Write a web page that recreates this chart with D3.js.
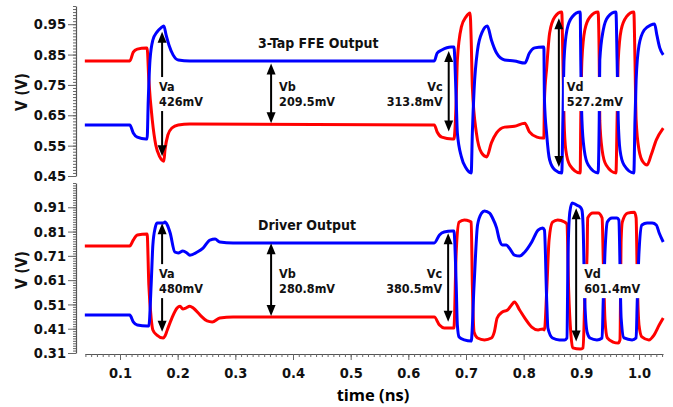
<!DOCTYPE html>
<html>
<head>
<meta charset="utf-8">
<script src="https://cdn.jsdelivr.net/npm/d3@7"></script>
<style>
  body { margin: 0; background: #fff; }
  svg { display: block; }
  .axis .domain { stroke: #555; stroke-width: 1.2; }
  .axis line { stroke: #666; }
  .axis text { font-family: 'DejaVu Sans Condensed', 'Liberation Sans', sans-serif; font-weight: bold; font-size: 14.5px; fill: #111; }
  .lbl { font-family: 'DejaVu Sans Condensed', 'Liberation Sans', sans-serif; font-weight: bold; fill: #111; }
</style>
</head>
<body>
<div id="chart"></div>
<script>
// tick labels
var ffeTicks = [0.45, 0.55, 0.65, 0.75, 0.85, 0.95];
var drvTicks = [0.31, 0.41, 0.51, 0.61, 0.71, 0.81, 0.91];
var timeTicks = [0.1, 0.2, 0.3, 0.4, 0.5, 0.6, 0.7, 0.8, 0.9, 1.0];

// 3-Tap FFE output, [time ns, volts]
var ffeRed = [[0.039,0.829],[0.117,0.829],[0.123,0.858],[0.130,0.868],[0.145,0.872],[0.147,0.872],[0.150,0.766],[0.156,0.634],[0.162,0.552],[0.169,0.513],[0.176,0.499],[0.178,0.536],[0.183,0.585],[0.190,0.608],[0.201,0.618],[0.221,0.621],[0.645,0.618],
  [0.650,0.595],[0.658,0.578],[0.676,0.572],[0.679,0.572],[0.683,0.700],[0.685,0.832],[0.692,0.941],[0.700,0.974],[0.707,0.987],[0.709,0.898],[0.711,0.743],[0.718,0.592],[0.727,0.526],[0.736,0.513],[0.744,0.559],[0.753,0.592],[0.767,0.611],[0.784,0.614],[0.802,0.624],[0.810,0.595],[0.823,0.578],[0.833,0.575],[0.835,0.575],
  [0.836,0.700],[0.840,0.809],[0.845,0.921],[0.854,0.974],[0.866,0.990],[0.868,0.832],[0.870,0.634],[0.873,0.536],[0.880,0.486],[0.898,0.460],[0.899,0.634],[0.901,0.832],[0.906,0.931],[0.915,0.974],[0.929,0.990],[0.931,0.832],[0.932,0.634],[0.936,0.536],[0.943,0.486],[0.960,0.460],
  [0.962,0.634],[0.964,0.832],[0.969,0.931],[0.978,0.974],[0.991,0.990],[0.993,0.832],[0.995,0.634],[1.000,0.536],[1.007,0.496],[1.014,0.486],[1.021,0.519],[1.030,0.569],[1.042,0.608]];
var ffeBlue = [[0.039,0.618],[0.117,0.618],[0.123,0.592],[0.130,0.578],[0.145,0.572],[0.147,0.572],[0.149,0.700],[0.152,0.832],[0.157,0.898],[0.164,0.924],[0.171,0.938],[0.176,0.944],[0.180,0.914],[0.185,0.881],[0.192,0.849],[0.201,0.832],[0.221,0.829],[0.645,0.829],
  [0.650,0.855],[0.658,0.865],[0.674,0.875],[0.679,0.875],[0.683,0.700],[0.685,0.592],[0.692,0.513],[0.700,0.476],[0.709,0.460],[0.711,0.592],[0.714,0.733],[0.720,0.865],[0.728,0.924],[0.737,0.944],[0.744,0.898],[0.753,0.855],[0.767,0.832],[0.784,0.829],[0.802,0.822],[0.810,0.855],[0.819,0.872],[0.833,0.875],[0.835,0.875],
  [0.836,0.700],[0.840,0.585],[0.845,0.503],[0.854,0.470],[0.866,0.460],[0.868,0.634],[0.870,0.832],[0.875,0.931],[0.884,0.974],[0.898,0.990],[0.899,0.832],[0.901,0.634],[0.905,0.536],[0.912,0.486],[0.929,0.460],[0.931,0.634],[0.932,0.832],[0.938,0.931],[0.946,0.974],[0.960,0.990],
  [0.962,0.832],[0.964,0.634],[0.967,0.536],[0.974,0.486],[0.991,0.460],[0.993,0.634],[0.995,0.766],[1.000,0.881],[1.009,0.931],[1.020,0.947],[1.027,0.951],[1.031,0.914],[1.036,0.872],[1.042,0.849]];

// Driver output
var drvRed = [[0.039,0.751],[0.117,0.751],[0.123,0.775],[0.130,0.796],[0.147,0.800],[0.150,0.590],[0.154,0.454],[0.157,0.405],[0.164,0.384],[0.175,0.372],[0.178,0.380],[0.182,0.405],[0.190,0.454],[0.199,0.495],[0.204,0.503],[0.209,0.491],[0.214,0.495],[0.221,0.503],[0.227,0.495],[0.239,0.466],[0.251,0.442],[0.260,0.438],[0.273,0.454],[0.296,0.458],[0.645,0.458],
  [0.654,0.425],[0.662,0.413],[0.676,0.413],[0.679,0.413],[0.683,0.726],[0.688,0.849],[0.697,0.858],[0.706,0.853],[0.709,0.849],[0.711,0.590],[0.714,0.396],[0.720,0.372],[0.732,0.364],[0.744,0.372],[0.749,0.396],[0.754,0.454],[0.763,0.479],[0.772,0.487],[0.779,0.508],[0.784,0.520],[0.793,0.487],[0.802,0.454],[0.814,0.417],[0.825,0.405],[0.833,0.409],[0.836,0.405],
  [0.840,0.569],[0.844,0.775],[0.850,0.849],[0.859,0.858],[0.871,0.849],[0.875,0.841],[0.878,0.569],[0.882,0.384],[0.885,0.331],[0.898,0.326],[0.903,0.331],[0.906,0.528],[0.910,0.726],[0.911,0.866],[0.920,0.886],[0.929,0.886],[0.936,0.866],[0.938,0.693],[0.941,0.446],[0.945,0.372],[0.955,0.355],[0.964,0.351],[0.967,0.364],
  [0.969,0.775],[0.971,0.849],[0.980,0.886],[0.992,0.890],[0.995,0.866],[0.997,0.611],[1.000,0.425],[1.005,0.376],[1.017,0.364],[1.026,0.384],[1.035,0.425],[1.042,0.454]];
var drvBlue = [[0.039,0.466],[0.117,0.466],[0.123,0.438],[0.130,0.425],[0.147,0.421],[0.150,0.421],[0.154,0.590],[0.157,0.755],[0.161,0.825],[0.164,0.845],[0.175,0.845],[0.178,0.849],[0.182,0.837],[0.187,0.804],[0.195,0.726],[0.201,0.722],[0.209,0.730],[0.216,0.722],[0.221,0.713],[0.234,0.726],[0.244,0.742],[0.256,0.775],[0.265,0.779],[0.273,0.767],[0.296,0.763],[0.645,0.763],
  [0.654,0.796],[0.662,0.808],[0.676,0.812],[0.679,0.812],[0.683,0.590],[0.685,0.425],[0.688,0.376],[0.697,0.364],[0.709,0.359],[0.714,0.590],[0.720,0.837],[0.727,0.886],[0.732,0.895],[0.741,0.886],[0.746,0.866],[0.753,0.825],[0.758,0.775],[0.763,0.755],[0.770,0.755],[0.775,0.742],[0.784,0.713],[0.793,0.709],[0.802,0.726],[0.814,0.767],[0.825,0.816],[0.833,0.825],[0.836,0.816],
  [0.840,0.520],[0.842,0.413],[0.850,0.372],[0.862,0.364],[0.871,0.364],[0.875,0.372],[0.877,0.726],[0.880,0.890],[0.884,0.928],[0.892,0.919],[0.898,0.911],[0.901,0.899],[0.903,0.837],[0.906,0.520],[0.910,0.396],[0.915,0.372],[0.927,0.364],[0.936,0.372],[0.938,0.528],[0.941,0.726],[0.945,0.849],[0.953,0.866],[0.962,0.866],[0.965,0.858],
  [0.969,0.454],[0.974,0.372],[0.988,0.364],[0.995,0.372],[0.997,0.528],[1.000,0.726],[1.005,0.837],[1.014,0.845],[1.023,0.845],[1.030,0.837],[1.035,0.804],[1.042,0.767]];

// swing markers
var markNames = ["Va", "Vb", "Vc", "Vd"];
var ffeMarkText = ["426mV", "209.5mV", "313.8mV", "527.2mV"];
var ffeMarkTime = [0.173, 0.362, 0.670, 0.861];
var ffeMarkLow = [0.515, 0.624, 0.597, 0.480];
var ffeMarkHigh = [0.925, 0.821, 0.862, 0.970];
var drvMarkText = ["480mV", "280.8mV", "380.5mV", "601.4mV"];
var drvMarkTime = [0.173, 0.362, 0.669, 0.891];
var drvMarkLow = [0.398, 0.462, 0.439, 0.357];
var drvMarkHigh = [0.844, 0.762, 0.803, 0.906];

var W = 673, H = 407, axisX = 76;
var svg = d3.select("#chart").append("svg").attr("width", W).attr("height", H);

var x = d3.scaleLinear().domain([0.0393, 1.0416]).range([85, 663]);

var panels = [
  {title: "3-Tap FFE Output", titleY: 48, ticks: ffeTicks, dom: [0.45, 1.01], rng: [176, 6], minorFrom: 45,
   red: ffeRed, blue: ffeBlue, text: ffeMarkText, t: ffeMarkTime, lo: ffeMarkLow, hi: ffeMarkHigh, labelV: 0.72, ylabY: 92},
  {title: "Driver Output", titleY: 230, ticks: drvTicks, dom: [0.31, 1.01], rng: [353, 183], minorFrom: 31,
   red: drvRed, blue: drvBlue, text: drvMarkText, t: drvMarkTime, lo: drvMarkLow, hi: drvMarkHigh, labelV: 0.606, ylabY: 270}
];
var sides = ["over", "right", "left", "right"];

panels.forEach(function(p){
  var y = d3.scaleLinear().domain(p.dom).range(p.rng);

  // y axis with minor ticks
  svg.append("g").attr("class", "axis").attr("transform", "translate(" + axisX + ",0)")
    .call(d3.axisLeft(y).tickValues(p.ticks).tickSize(8).tickSizeOuter(0).tickPadding(2).tickFormat(d3.format(".2f")));
  var mn = svg.append("g").attr("class", "axis").attr("transform", "translate(" + axisX + ",0)")
    .call(d3.axisLeft(y).tickValues(d3.range(p.minorFrom, 102).map(function(d){ return d / 100; })).tickSize(3).tickFormat(""));
  mn.select(".domain").remove();

  svg.append("text").attr("class", "lbl").attr("font-size", 15)
    .attr("transform", "translate(22," + p.ylabY + ") rotate(-90)")
    .attr("text-anchor", "middle").attr("dy", "0.35em").text("V (V)");

  var line = d3.line().x(function(d){ return x(d[0]); }).y(function(d){ return y(d[1]); }).curve(d3.curveMonotoneX);
  svg.append("path").datum(p.red).attr("d", line).attr("fill", "none").attr("stroke", "#ff0000").attr("stroke-width", 3).attr("stroke-linejoin", "round");
  svg.append("path").datum(p.blue).attr("d", line).attr("fill", "none").attr("stroke", "#0000ff").attr("stroke-width", 3).attr("stroke-linejoin", "round");

  svg.append("text").attr("class", "lbl").attr("font-size", 14).attr("x", 258).attr("y", p.titleY).text(p.title);

  // double arrows
  markNames.forEach(function(name, i){
    var ax = x(p.t[i]), yt = y(p.hi[i]), yb = y(p.lo[i]);
    svg.append("line").attr("x1", ax).attr("x2", ax).attr("y1", yt + 8).attr("y2", yb - 8)
      .attr("stroke", "#000").attr("stroke-width", 2);
    svg.append("path").attr("fill", "#000")
      .attr("d", "M" + ax + "," + yt + "L" + (ax - 4.5) + "," + (yt + 11) + "L" + (ax + 4.5) + "," + (yt + 11) + "Z");
    svg.append("path").attr("fill", "#000")
      .attr("d", "M" + ax + "," + yb + "L" + (ax - 4.5) + "," + (yb - 11) + "L" + (ax + 4.5) + "," + (yb - 11) + "Z");

    var cy = y(p.labelV);
    var g = svg.append("g");
    var tx = sides[i] == "over" ? ax - 3 : sides[i] == "right" ? ax + 8 : ax - 6;
    var anchor = sides[i] == "left" ? "end" : "start";
    var t = g.append("text").attr("class", "lbl").attr("font-size", 12.5).attr("text-anchor", anchor);
    t.append("tspan").attr("x", tx).attr("y", cy - 3).text(name);
    t.append("tspan").attr("x", tx).attr("y", cy + 12).text(p.text[i]);
    var bb = t.node().getBBox();
    g.insert("rect", "text").attr("x", bb.x - 3).attr("y", bb.y - 2).attr("width", bb.width + 5).attr("height", bb.height + 4).attr("fill", "#fff");
  });
});

// x axis
svg.append("g").attr("class", "axis").attr("transform", "translate(0,354)")
  .call(d3.axisBottom(x).tickValues(timeTicks).tickSize(6).tickSizeOuter(0).tickPadding(8).tickFormat(d3.format(".1f")));
var xm = svg.append("g").attr("class", "axis").attr("transform", "translate(0,354)")
  .call(d3.axisBottom(x).tickValues(d3.range(4, 105).map(function(d){ return d / 100; })).tickSize(3).tickFormat(""));
xm.select(".domain").remove();

svg.append("text").attr("x", 373).attr("y", 401).attr("text-anchor", "middle")
  .style("font-family", "'Open Sans', sans-serif").style("font-weight", "bold").style("font-size", "16.5px")
  .text("time (ns)");
</script>
</body>
</html>
